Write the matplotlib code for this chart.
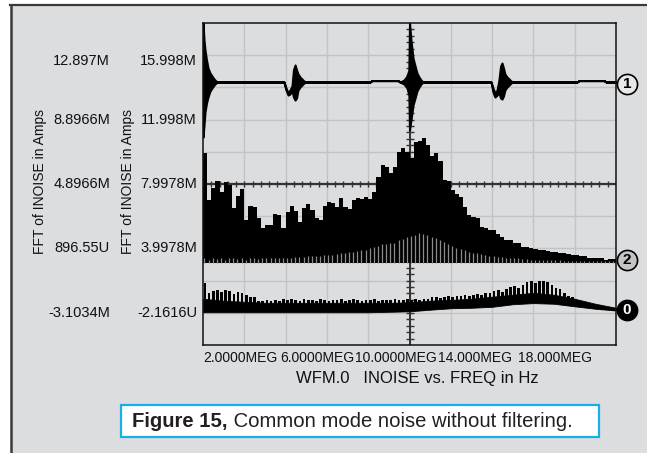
import numpy as np
import matplotlib
matplotlib.use("Agg")
import matplotlib.pyplot as plt
from matplotlib import transforms
from matplotlib.patches import Rectangle
from matplotlib.lines import Line2D

plt.rcParams['font.family'] = ['Liberation Sans', 'DejaVu Sans']

BG = '#dcdddf'
GRID = '#c2c3c5'

# axes: x in MEG (Hz), y in mA on the left-hand (trace 2) scale
x_ticks = [2, 6, 10, 14, 18]
x_ticklabels = ['2.0000MEG', '6.0000MEG', '10.0000MEG', '14.000MEG', '18.000MEG']
grid_x = [2, 4, 6, 8, 10, 12, 14, 16, 18]
grid_y = [-3.1034, -1.1034, 0.8966, 2.8966, 4.8966, 6.8966, 8.8966, 10.8966, 12.8966]
ytick_vals = [12.8966, 8.8966, 4.8966, 0.89655, -3.1034]
ylab_outer = ['12.897M', '8.8966M', '4.8966M', '896.55U', '-3.1034M']
ylab_inner = ['15.998M', '11.998M', '7.9978M', '3.9978M', '-2.1616U']
# inner scale is shifted from the outer one (3.9978M vs 896.55U)
inner_offset = 3.9978 - 0.89655

# spectrum bins, 0.2 MEG wide
bin_left = np.arange(100) * 0.2

# trace 2 (black envelope)
inoise_black = np.array([
    6.82, 3.9, 4.65, 5.08, 4.4, 5.0, 4.83, 3.4, 4.15, 4.58,
    2.66, 3.53, 3.47, 2.78, 2.16, 2.35, 2.35, 3.03, 2.97, 2.16,
    3.16, 3.53, 3.22, 2.53, 3.4, 3.65, 3.28, 2.78, 2.66, 3.53,
    3.78, 3.71, 3.47, 4.02, 3.47, 3.34, 3.9, 4.02, 3.95, 4.09,
    3.95, 4.4, 5.33, 6.07, 5.95, 5.6, 5.95, 6.88, 7.13, 6.88,
    6.5, 7.5, 7.56, 7.75, 7.32, 6.63, 6.82, 6.32, 5.14, 5.08,
    4.52, 4.26, 4.09, 3.47, 2.97, 2.84, 2.78, 2.22, 2.16, 2.04,
    2.04, 1.79, 1.6, 1.42, 1.42, 1.23, 1.23, 0.98, 0.98, 0.92,
    0.86, 0.8, 0.8, 0.73, 0.67, 0.67, 0.61, 0.61, 0.55, 0.48,
    0.48, 0.42, 0.42, 0.3, 0.3, 0.3, 0.3, 0.17, 0.24, 0.24])

# trace 2 (grey lines)
inoise_grey = np.array([
    0.3, 0.2, 0.3, 0.25, 0.3, 0.2, 0.3, 0.3, 0.25, 0.3,
    0.2, 0.3, 0.3, 0.25, 0.3, 0.3, 0.28, 0.3, 0.3, 0.32,
    0.32, 0.32, 0.34, 0.36, 0.38, 0.4, 0.42, 0.44, 0.45, 0.46,
    0.48, 0.5, 0.54, 0.58, 0.62, 0.66, 0.7, 0.75, 0.8, 0.82,
    0.9, 0.98, 1.05, 1.15, 1.2, 1.22, 1.25, 1.42, 1.5, 1.6,
    1.66, 1.75, 1.85, 1.8, 1.72, 1.62, 1.52, 1.42, 1.28, 1.18,
    1.05, 0.95, 0.85, 0.78, 0.7, 0.64, 0.58, 0.54, 0.5, 0.45,
    0.4, 0.36, 0.34, 0.32, 0.31, 0.3, 0.28, 0.25, 0.22, 0.2,
    0.18, 0.17, 0.17, 0.16, 0.16, 0.15, 0.15, 0.14, 0.14, 0.13,
    0.13, 0.12, 0.12, 0.12, 0.11, 0.11, 0.1, 0.1, 0.1, 0.1])

# trace 3 (inner scale): spike tops and band bottom per bin
wfm0_peak = np.array([
    1.86, 1.24, 1.37, 1.43, 1.3, 1.43, 1.34, 1.18, 1.3, 1.24,
    1.12, 0.99, 0.99, 0.75, 0.72, 0.78, 0.75, 0.8, 0.72, 0.85,
    0.78, 0.87, 0.8, 0.75, 0.87, 0.78, 0.82, 0.75, 0.85, 0.8,
    0.75, 0.82, 0.78, 0.85, 0.75, 0.8, 0.87, 0.78, 0.75, 0.82,
    0.8, 0.87, 0.75, 0.8, 0.82, 0.78, 0.85, 0.8, 0.82, 0.85,
    0.8, 0.85, 0.82, 0.88, 0.85, 0.95, 1.0, 0.92, 1.0, 1.02,
    0.98, 1.05, 1.02, 1.08, 1.05, 1.12, 1.18, 1.12, 1.2, 1.25,
    1.35, 1.43, 1.3, 1.45, 1.6, 1.68, 1.55, 1.72, 1.9, 1.99,
    1.85, 1.95, 1.99, 1.9, 1.7, 1.55, 1.45, 1.2, 1.05, 0.95,
    0.8, 0.7, 0.6, 0.56, 0.5, 0.42, 0.38, 0.33, 0.3, 0.28])
wfm0_low = np.array([0.03] * 46 + [
    0.05, 0.06, 0.07, 0.08,
    0.09, 0.1, 0.12, 0.14, 0.16, 0.19, 0.21, 0.23, 0.25, 0.27,
    0.28, 0.29, 0.3, 0.3, 0.31, 0.31, 0.32, 0.33, 0.34, 0.36,
    0.37, 0.4, 0.44, 0.48, 0.51, 0.53, 0.56, 0.58, 0.6, 0.6,
    0.6, 0.6, 0.59, 0.58, 0.57, 0.56, 0.52, 0.48, 0.44, 0.4,
    0.38, 0.34, 0.3, 0.27, 0.25, 0.22, 0.2, 0.18, 0.16, 0.14])
# solid band of trace 3, every 1 MEG
band_x = np.arange(21)
band_low = np.array([0.03, 0.03, 0.03, 0.03, 0.03, 0.03, 0.03, 0.03, 0.03, 0.06, 0.09,
                     0.19, 0.28, 0.31, 0.37, 0.53, 0.6, 0.56, 0.4, 0.25, 0.14])
band_top = np.array([0.87, 0.75, 0.68, 0.62, 0.62, 0.62, 0.62, 0.62, 0.62, 0.62, 0.65,
                     0.75, 0.8, 0.87, 1.0, 1.12, 1.24, 1.12, 0.87, 0.56, 0.31])

# trace 1 (outer scale), upper / lower envelope of the ringing
t1_x = np.array([0, 0.048, 0.097, 0.17, 0.242, 0.339, 0.436, 0.533, 0.63, 0.726,
                 3.92, 4.02, 4.12, 4.21, 4.31, 4.38, 4.46, 4.53, 4.6, 4.7, 4.79, 4.89, 4.99,
                 8.09, 8.18, 9.44, 9.54, 9.73, 9.88, 9.97, 10.0, 10.07, 10.17, 10.27, 10.36,
                 10.46, 10.56, 10.65,
                 13.95, 14.04, 14.14, 14.24, 14.33, 14.41, 14.48, 14.55, 14.62, 14.72,
                 14.82, 14.92, 15.01,
                 18.11, 18.21, 19.42, 19.52, 20.0])
t1_hi = np.array([14.9, 13.84, 13.22, 12.6, 12.1, 11.79, 11.6, 11.42, 11.29, 11.23,
                  11.23, 10.86, 10.55, 10.73, 10.98, 11.98, 12.29, 11.98, 11.73, 11.54,
                  11.42, 11.29, 11.23,
                  11.23, 11.32, 11.32, 11.23, 11.35, 11.6, 11.98, 14.9, 13.84, 12.72,
                  12.22, 11.79, 11.54, 11.35, 11.23,
                  11.23, 10.86, 10.55, 10.73, 11.35, 12.22, 12.41, 12.1, 11.73, 11.54,
                  11.42, 11.29, 11.23,
                  11.23, 11.32, 11.32, 11.23, 11.23])
t1_lo = np.array([7.81, 8.56, 9.37, 9.93, 10.3, 10.67, 10.86, 11.04, 11.17, 11.23,
                  11.23, 10.73, 10.42, 10.48, 10.73, 10.3, 10.11, 10.24, 10.73, 10.92,
                  11.04, 11.17, 11.23,
                  11.23, 11.32, 11.32, 11.23, 11.11, 10.86, 10.42, 8.25, 8.87, 9.8,
                  10.24, 10.67, 10.92, 11.11, 11.23,
                  11.23, 10.61, 10.3, 10.42, 10.55, 10.24, 10.17, 10.36, 10.73, 10.92,
                  11.04, 11.17, 11.23,
                  11.23, 11.32, 11.32, 11.23, 11.23])

fig = plt.figure(figsize=(6.47, 4.53), dpi=100)
fig.patch.set_facecolor('white')
W, H = 647.0, 453.0

# grey panel with dark top/left edge
fig.patches.append(Rectangle((11 / W, 0), 1, 1 - 6 / H, transform=fig.transFigure,
                             facecolor=BG, edgecolor='none', zorder=-10))
fig.lines.append(Line2D([10 / W, 1], [1 - 5 / H, 1 - 5 / H], transform=fig.transFigure,
                        color='#3a3a3a', lw=1.6))
fig.lines.append(Line2D([11 / W, 11 / W], [0, 1 - 5 / H], transform=fig.transFigure,
                        color='#3a3a3a', lw=1.8))

ax = fig.add_axes([203 / W, 1 - 345 / H, 413 / W, 322 / H])
ax.set_facecolor(BG)
ax.set_xlim(0, 20)
ax.set_ylim(-5.1034, 14.8966)
for s in ax.spines.values():
    s.set_linewidth(1.1)
    s.set_color('#111111')
    s.set_zorder(6)

for gx in grid_x:
    ax.axvline(gx, color=GRID, lw=1.0, zorder=0)
for gy in grid_y:
    ax.axhline(gy, color=GRID, lw=1.0, zorder=0)

# centre cross-hair with tick marks
cross_y = grid_y[4]
ax.plot([0, 20], [cross_y, cross_y], color='#333333', lw=1.6, zorder=1)
ax.plot(np.arange(0.4, 20, 0.4), np.full(49, cross_y), ls='none', marker='|',
        ms=5, mew=1.0, color='#333333', zorder=1)
ax.plot([10, 10], [-5.1034, 14.8966], color='#333333', lw=1.4, zorder=1)
ax.plot(np.full(49, 10.0), np.arange(-4.7034, 14.8, 0.4), ls='none', marker='_',
        ms=6, mew=1.0, color='#333333', zorder=1)

# trace 2
ax.bar(bin_left, inoise_black, width=0.2, align='edge', color='black', lw=0, zorder=3)
ax.vlines(bin_left + 0.07, 0, inoise_grey, colors='#8c8c8c', lw=0.9, zorder=4)

# trace 3
off = inner_offset
ax.fill_between(band_x, band_low - off, band_top - off, color='black', lw=0.6, zorder=3)
ax.bar(bin_left + 0.03, wfm0_peak - wfm0_low, bottom=wfm0_low - off, width=0.13,
       align='edge', color='black', lw=0, zorder=3)

# trace 1
ax.fill_between(t1_x, t1_lo, t1_hi, facecolor='black', edgecolor='black', lw=1.5,
                zorder=5, clip_on=True)

# x tick labels
ax.set_xticks(x_ticks, x_ticklabels, fontsize=10, color='#111111')
ax.tick_params(axis='x', length=0, pad=4.5)
ax.set_yticks([])
shifts = [-4, -10, -14, -17, -20]
for lab, dx in zip(ax.get_xticklabels(), shifts):
    lab.set_transform(lab.get_transform() +
                      transforms.ScaledTranslation(dx / 100.0, 0, fig.dpi_scale_trans))

# two columns of y labels
tr_outer = transforms.blended_transform_factory(fig.transFigure, ax.transData)
tr_inner = transforms.blended_transform_factory(ax.transAxes, ax.transData)
down = transforms.ScaledTranslation(0, -6 / 100.0, fig.dpi_scale_trans)
for i, (v, a, b) in enumerate(zip(ytick_vals, ylab_outer, ylab_inner)):
    ax.text(110 / W, v, a, transform=tr_outer + down if i == 0 else tr_outer,
            ha='right', va='center', fontsize=10.5, color='#111111')
    ax.text(-6 / 413.0, v, b, transform=tr_inner + down if i == 0 else tr_inner,
            ha='right', va='center', fontsize=10.5, color='#111111')

ylab = 'FFT of INOISE in Amps'
fig.text(40 / W, 1 - 181.5 / H, ylab, rotation=90, ha='center', va='center',
         fontsize=10, color='#111111')
fig.text(128 / W, 1 - 181.5 / H, ylab, rotation=90, ha='center', va='center',
         fontsize=10, color='#111111')

fig.text(417 / W, 1 - 378 / H, 'WFM.0   INOISE vs. FREQ in Hz', ha='center', va='center',
         fontsize=12, color='#111111')

# trace markers on the right
tr_mark = transforms.blended_transform_factory(ax.transAxes, ax.transData)
marks = [('1', t1_hi[-1] - 0.1, '#e8e8e8', 'black'),
         ('2', inoise_black[-1] - 0.07, '#c4c4c4', 'black'),
         ('0', wfm0_low[-1] - off + 0.05, 'black', 'white')]
for txt, yv, fc, tc in marks:
    ax.plot([1.0266], [yv], transform=tr_mark, marker='o', ms=14.5, mfc=fc, mec='black',
            mew=1.2, clip_on=False, zorder=7)
    ax.text(1.0266, yv, txt, transform=tr_mark, ha='center', va='center',
            fontsize=11, fontweight='bold', color=tc, zorder=8, clip_on=False)

# caption box
fig.patches.append(Rectangle((121 / W, 1 - 437 / H), 478 / W, 32 / H, transform=fig.transFigure,
                             facecolor='white', edgecolor='#1aaee8', lw=1.6, zorder=1))
t_bold = fig.text(132 / W, 1 - 427 / H, 'Figure 15,', fontsize=14.6, fontweight='bold',
                  color='#231f20', va='baseline', zorder=2)
fig.canvas.draw()
bb = t_bold.get_window_extent()
fig.text(bb.x1 / W + 1 / W, 1 - 427 / H, ' Common mode noise without filtering.', fontsize=14.6,
         color='#231f20', va='baseline', zorder=2)

fig.savefig('out.png', dpi=100, facecolor=fig.get_facecolor())
